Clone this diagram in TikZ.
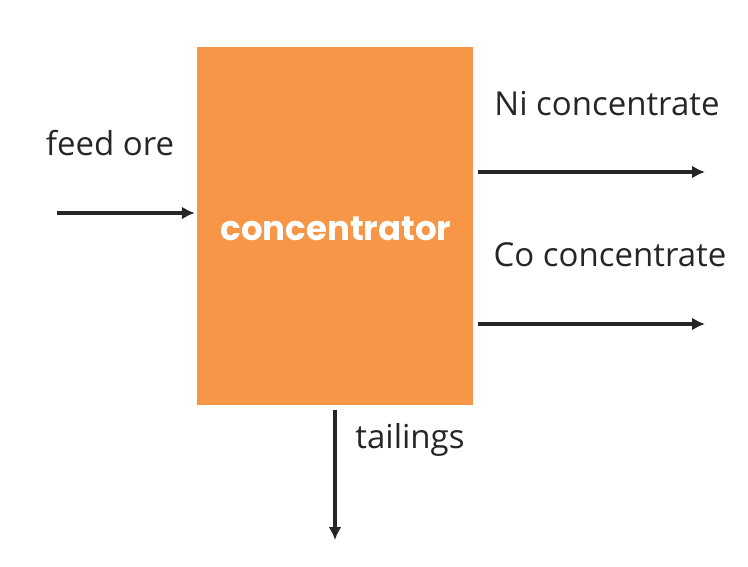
\documentclass[tikz,border=0pt]{standalone}
\usepackage{fontspec}
\setmainfont{Open Sans}
\newfontfamily\boxfont{Poppins}
\usetikzlibrary{positioning, arrows.meta}
\definecolor{boxorange}{HTML}{F79646}
\definecolor{flowgray}{HTML}{262626}
\tikzset{
  flowsheet/.style={
	x=1pt, y=-1pt,
	every node/.style={font=\fontsize{33}{38}\selectfont, text=flowgray},
  },
  unit/.style={fill=boxorange, minimum width=276pt, minimum height=358pt, inner sep=0pt}, % process block
  stream/.style={-{Latex[length=13pt,width=13pt]}, line width=3.5pt, draw=flowgray}, % material flow
}
\begin{document}
\begin{tikzpicture}[flowsheet]
	  \useasboundingbox (0,0) rectangle (748,566);
	  \node[unit] (conc) at (335,226) {};
	  \node[font=\boxfont\bfseries\fontsize{34}{38}\selectfont, text=white] (conctext) at (336,229) {concentrator};

	  \coordinate (feedin) at (57,213);
	  \coordinate (niout) at (705,172);
	  \coordinate (coout) at (705,324);
	  \coordinate (tailout) at (335,540);

	  \draw[stream, shorten >=2pt] (feedin) -- (conc.west |- feedin);
	  \draw[stream, shorten <=5pt] (conc.east |- niout) -- (niout);
	  \draw[stream, shorten <=5pt] (conc.east |- coout) -- (coout);
	  \draw[stream, shorten <=5pt] (conc.south) -- (tailout);

	  \node (feed) at (110,143) {feed ore};
	  \node (ni) at (607,104) {Ni concentrate};
	  \node (co) at (610,255) {Co concentrate};
	  \node (tail) at (410,440) {tailings};
	  \end{tikzpicture}
\end{document}
